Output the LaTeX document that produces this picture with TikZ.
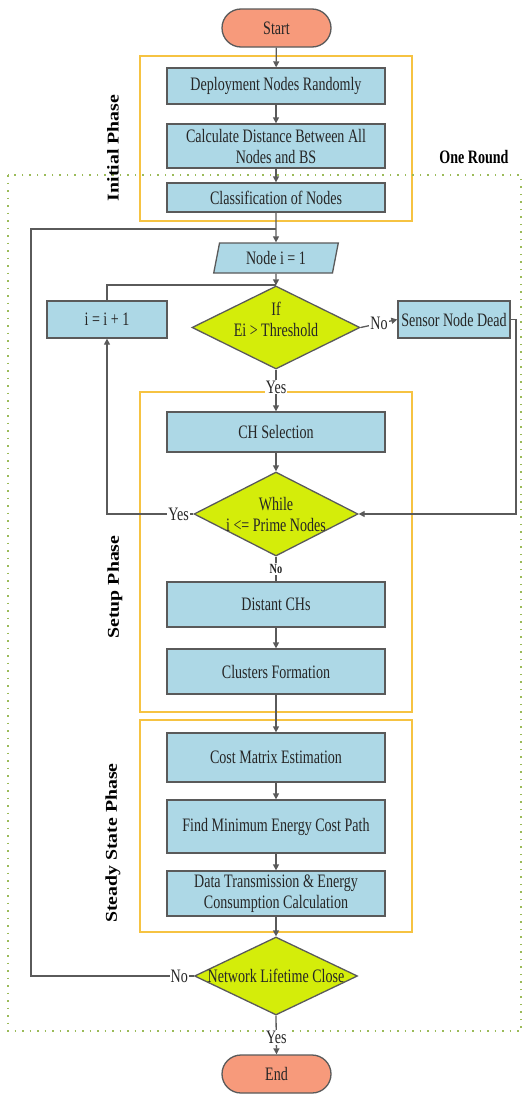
\documentclass[tikz,border=0pt]{standalone}
\usepackage{fontspec}
\setmainfont{Liberation Serif}[FakeStretch=0.74]
\newfontfamily\phasefont{Liberation Serif}[FakeStretch=1.2]
\usetikzlibrary{shapes.geometric,arrows.meta}
\definecolor{boxblue}{HTML}{ADD8E6}
\definecolor{termred}{HTML}{F79A7B}
\definecolor{decgreen}{HTML}{D4ED0A}
\definecolor{edgegray}{HTML}{5A5A5A}
\definecolor{phaseyellow}{HTML}{F6C342}
\definecolor{roundgreen}{HTML}{9BBB59}
\begin{document}
\begin{tikzpicture}[x=1pt,y=-1pt,
  every node/.style={font=\fontsize{19}{21}\selectfont, text=black!85},
  proc/.style={draw=edgegray, line width=1.3pt, fill=boxblue, minimum width=218pt, inner sep=0pt, align=center},
  term/.style={draw=edgegray, line width=1.3pt, fill=termred, rounded corners=19pt, minimum width=109pt, minimum height=38pt, inner sep=0pt},
  dec/.style={diamond, draw=edgegray, line width=1.3pt, fill=decgreen, inner sep=0pt},
  io/.style={trapezium, trapezium left angle=77, trapezium right angle=103, trapezium stretches=true, draw=edgegray, line width=1.3pt, fill=boxblue, inner sep=0pt},
  phasebox/.style={draw=phaseyellow, line width=1.2pt},
  arr/.style={draw=edgegray, line width=1.3pt, -{Triangle[length=6pt,width=6pt]}},
  ln/.style={draw=edgegray, line width=1.3pt},
  lbl/.style={fill=white, inner sep=1pt},
  phaselbl/.style={font=\phasefont\bfseries\fontsize{16.5}{18}\selectfont, rotate=90, text=black},
  dectext/.style={align=center, inner sep=0pt}
]
\fill[white] (0,0) rectangle (527,1095);
\useasboundingbox (0,0) rectangle (527,1095);

% phase frames
\draw[phasebox] (140,56) rectangle (412,221);
\draw[phasebox] (140,392) rectangle (412,712);
\draw[phasebox] (140,720) rectangle (412,932);
% one round frame
\draw[roundgreen, line width=1.5pt, dash pattern=on 1.5pt off 6pt] (8,175) rectangle (521,1031);

\node[phaselbl] (pinit) at (113,148) {Initial Phase};
\node[phaselbl] (psetup) at (115,587) {Setup Phase};
\node[phaselbl] (psteady) at (113,843) {Steady State Phase};
\node[font=\bfseries\fontsize{19}{21}\selectfont, text=black] (round) at (474,157) {One Round};

% nodes
\node[term] (start) at (276.5,28) {Start};
\node[proc, minimum height=36pt] (deploy) at (276,86) {Deployment Nodes Randomly};
\node[proc, minimum height=44pt] (calc) at (276,146) {Calculate Distance Between All\\Nodes and BS};
\node[proc, minimum height=29pt] (class) at (276,197.5) {Classification of Nodes};
\node[io, minimum width=125pt, minimum height=30pt] (node1) at (276,258) {Node i = 1};
\node[dec, minimum width=168pt, minimum height=83pt] (ifd) at (276,327.5) {};
\node[dectext] (iftext) at (276,319) {If\\Ei > Threshold};
\node[proc, minimum width=120pt, minimum height=37pt] (inc) at (107,319.5) {i = i + 1};
\node[proc, minimum width=112pt, minimum height=37pt] (dead) at (454,319.5) {Sensor Node Dead};
\node[proc, minimum height=40pt] (ch) at (276,432) {CH Selection};
\node[dec, minimum width=164pt, minimum height=84pt] (while) at (276,514) {};
\node[dectext] (whiletext) at (276,514) {While\\i <= Prime Nodes};
\node[proc, minimum height=45pt] (distant) at (276,604.5) {Distant CHs};
\node[proc, minimum height=45pt] (clusters) at (276,671.5) {Clusters Formation};
\node[proc, minimum height=49pt] (cost) at (276,757.5) {Cost Matrix Estimation};
\node[proc, minimum height=53pt] (find) at (276,826.5) {Find Minimum Energy Cost Path};
\node[proc, minimum height=45pt] (data) at (276,893.5) {Data Transmission \& Energy\\Consumption Calculation};
\node[dec, minimum width=163pt, minimum height=78pt] (nlc) at (276,976) {};
\node[dectext] (nlctext) at (276,976) {Network Lifetime Close};
\node[term] (end) at (276.5,1074) {End};

\coordinate (lx) at (31,229);
\coordinate (rx) at (516,319.5);
\coordinate (jn) at (276,285);

% connectors
\draw[arr] (start) -- (deploy);
\draw[arr] (deploy) -- (calc);
\draw[arr] (calc) -- (class);
\draw[arr] (class) -- (node1);
\draw[arr] (node1) -- (ifd);
\draw[ln] (inc.north) |- (jn);
\draw[arr] (ifd.east) -- node[lbl]{No} (dead.west);
\draw[arr] (dead.east) -- (rx) |- (while.east);
\draw[arr] (ifd.south) -- node[lbl, pos=0.42]{Yes} (ch.north);
\draw[arr] (ch) -- (while);
\draw[arr] (while.west) -- node[lbl, pos=0.17]{Yes} (while.west -| inc.south) -- (inc.south);
\draw[ln] (while.south) -- node[lbl, font=\bfseries\fontsize{14}{16}\selectfont]{No} (distant.north);
\draw[arr] (distant) -- (clusters);
\draw[arr] (clusters) -- (cost);
\draw[arr] (cost) -- (find);
\draw[arr] (find) -- (data);
\draw[arr] (data) -- (nlc);
\draw[ln] (nlc.west) -- node[lbl, pos=0.09]{No} (nlc.west -| lx) -- (lx) -- (lx -| class.south);
\draw[arr] (nlc.south) -- node[lbl, pos=0.57]{Yes} (end.north);
\end{tikzpicture}
\end{document}
